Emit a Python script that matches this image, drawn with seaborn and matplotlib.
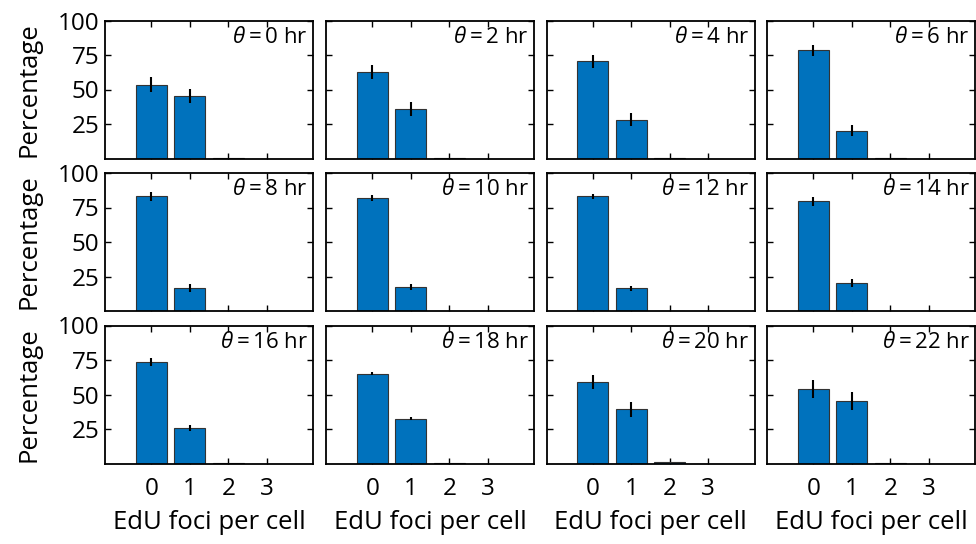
import matplotlib
matplotlib.use("Agg")
import matplotlib.pyplot as plt
import seaborn as sns
import pandas as pd
import numpy as np

# Time points after release (hours)
hours = [0, 2, 4, 6, 8, 10, 12, 14, 16, 18, 20, 22]
foci = [0, 1, 2, 3]

# Percentage of cells with 0, 1, 2, 3 EdU foci at each time point
pct_0 = [53.5, 62.5, 70.5, 78.5, 83.0, 82.0, 83.2, 79.5, 73.8, 65.0, 59.3, 53.8]
pct_1 = [45.3, 36.0, 28.0, 20.0, 16.5, 17.2, 16.4, 20.3, 25.7, 32.5, 39.2, 45.0]
pct_2 = [0.6, 0.2, 0.3, 0.2, 0.1, 0.1, 0.1, 0.1, 0.2, 0.5, 0.9, 0.6]
pct_3 = [0.0, 0.0, 0.0, 0.0, 0.0, 0.0, 0.0, 0.0, 0.0, 0.0, 0.0, 0.0]

# Standard errors of the 0- and 1-focus percentages
err_0 = [5.4, 5.0, 4.8, 4.0, 3.0, 2.2, 1.8, 3.2, 2.8, 1.0, 5.1, 6.5]
err_1 = [5.0, 5.3, 4.8, 4.0, 3.0, 2.3, 2.0, 3.2, 2.3, 1.0, 5.5, 6.5]
err_2 = [0.0] * 12
err_3 = [0.0] * 12

yticks = [25, 50, 75, 100]
bar_color = "#0072BD"

rows = []
for i, h in enumerate(hours):
    for f, p, e in zip(foci, [pct_0[i], pct_1[i], pct_2[i], pct_3[i]],
                       [err_0[i], err_1[i], err_2[i], err_3[i]]):
        rows.append({"hour": h, "foci": f, "pct": p, "err": e})
df = pd.DataFrame(rows)

sns.set_theme(style="white")
plt.rcParams["font.family"] = ["Open Sans", "DejaVu Sans"]
plt.rcParams["mathtext.fontset"] = "custom"
plt.rcParams["mathtext.rm"] = "Open Sans"
plt.rcParams["mathtext.it"] = "Open Sans:italic"
plt.rcParams["text.color"] = "black"
plt.rcParams["axes.labelcolor"] = "black"
plt.rcParams["xtick.color"] = "black"
plt.rcParams["ytick.color"] = "black"

fig = plt.figure(figsize=(9.76, 5.44), dpi=100)
W, H = 976, 544
lefts = [105, 326, 546.5, 767]
tops = [20.5, 173, 325.5]
aw, ah = 208, 138

for idx, h in enumerate(hours):
    r, c = divmod(idx, 4)
    ax = fig.add_axes([lefts[c] / W, 1 - (tops[r] + ah) / H, aw / W, ah / H])
    sub = df[df["hour"] == h]
    sns.barplot(data=sub, x="foci", y="pct", order=foci, color=bar_color,
                saturation=1, width=0.8, errorbar=None, edgecolor="#333333",
                linewidth=0.8, ax=ax)
    ax.errorbar(np.arange(len(foci)), sub["pct"].values, yerr=sub["err"].values,
                fmt="none", ecolor="black", elinewidth=1.5, capsize=0)
    ax.set_xlim(-1.2, 4.2)
    ax.set_ylim(0, 100)
    ax.set_yticks(yticks)
    ax.set_xticks(range(len(foci)))
    ax.set_xticklabels([str(f) for f in foci])
    ax.tick_params(direction="in", length=4, width=1, top=True, right=True,
                   bottom=True, left=True, labelsize=17.5)
    ax.tick_params(axis="x", pad=10)
    ax.tick_params(axis="y", pad=4)
    for s in ax.spines.values():
        s.set_visible(True)
        s.set_color("black")
        s.set_linewidth(1.3)
    ax.set_xlabel("")
    ax.set_ylabel("")
    if c == 0:
        ax.set_ylabel("Percentage", fontsize=18.5, labelpad=12)
    else:
        ax.tick_params(labelleft=False)
    if r == 2:
        ax.set_xlabel("EdU foci per cell", fontsize=18.5, labelpad=6)
    else:
        ax.tick_params(labelbottom=False)
    ax.text(0.975, 0.955, rf"$\theta = {h}$ hr", transform=ax.transAxes,
            ha="right", va="top", fontsize=16)

fig.savefig("out.png", dpi=100)
